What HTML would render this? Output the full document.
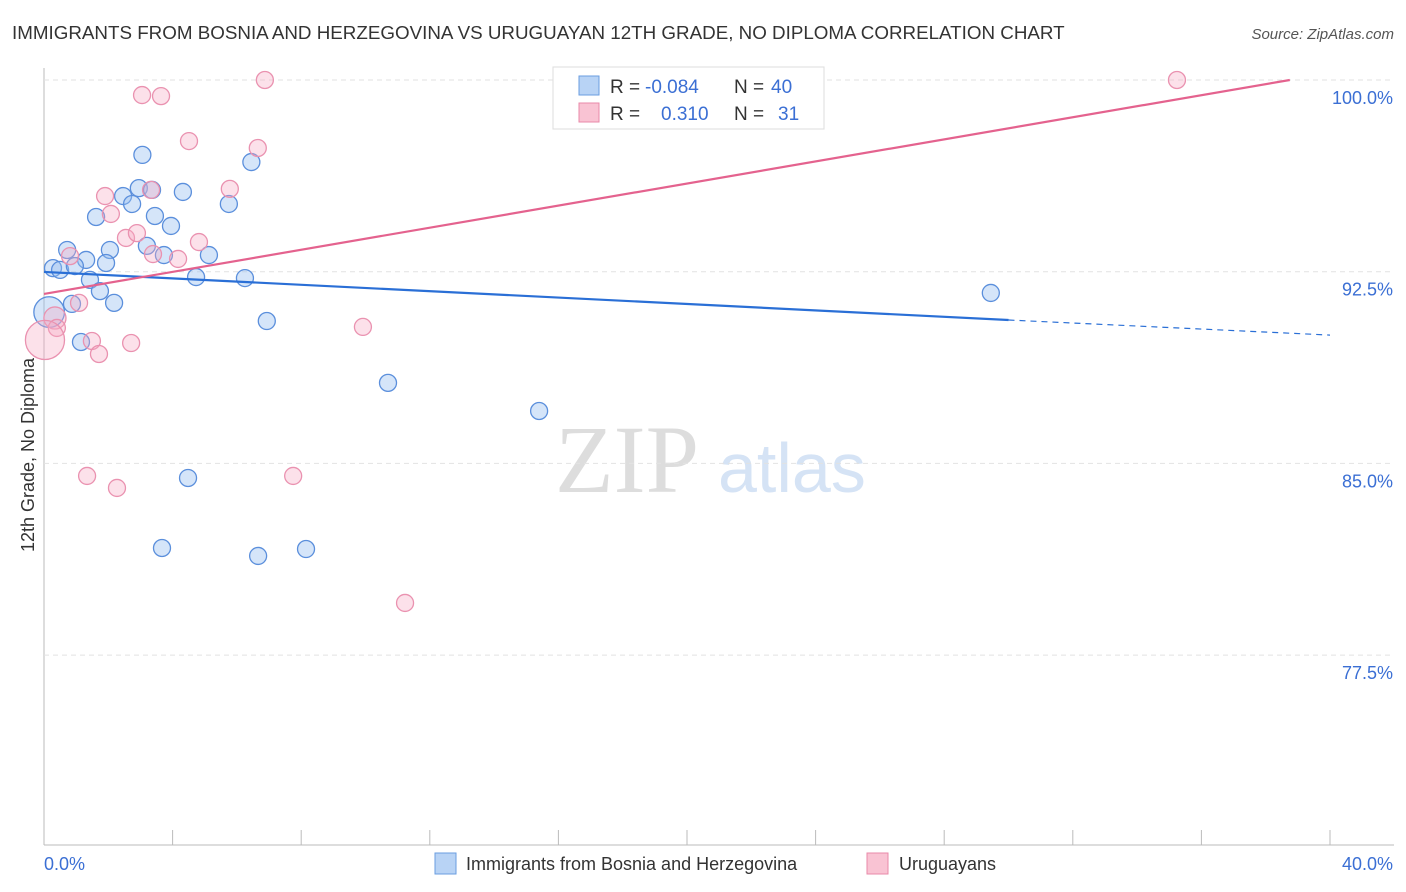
<!DOCTYPE html>
<html><head><meta charset="utf-8"><style>
body{margin:0;background:#fff;font-family:"Liberation Sans",sans-serif}
svg{display:block}
</style></head><body>
<svg width="1406" height="892" id="c">
<text x="12" y="39" font-size="18.8" fill="#333">IMMIGRANTS FROM BOSNIA AND HERZEGOVINA VS URUGUAYAN 12TH GRADE, NO DIPLOMA CORRELATION CHART</text>
<text x="1394" y="39" font-size="15" fill="#555" text-anchor="end" font-style="italic">Source: ZipAtlas.com</text>
<text x="0" y="0" transform="translate(34,455) rotate(-90)" font-size="18" fill="#333" text-anchor="middle">12th Grade, No Diploma</text>
<text x="555" y="492" font-size="96" fill="#ddd" font-family="Liberation Serif">ZIP</text>
<text x="718" y="492" font-size="70" fill="#d5e3f5">atlas</text>
<g id="grid"></g><g id="marks"></g>
<g>
<rect x="553" y="67" width="271" height="62" fill="#fff" stroke="#ddd"/>
<rect x="579" y="76" width="20" height="19" fill="#b8d3f5" stroke="#6a9ee0"/>
<rect x="579" y="103" width="20" height="19" fill="#f9c3d3" stroke="#e98aa8"/>
<text x="610" y="93" font-size="19" fill="#333">R =</text>
<text x="645" y="93" font-size="19" fill="#3b6fd4">-0.084</text>
<text x="734" y="93" font-size="19" fill="#333">N =</text>
<text x="771" y="93" font-size="19" fill="#3b6fd4">40</text>
<text x="610" y="120" font-size="19" fill="#333">R =</text>
<text x="661" y="120" font-size="19" fill="#3b6fd4">0.310</text>
<text x="734" y="120" font-size="19" fill="#333">N =</text>
<text x="778" y="120" font-size="19" fill="#3b6fd4">31</text>
</g>
<g>
<rect x="435" y="853" width="21" height="21" fill="#b8d3f5" stroke="#6a9ee0"/>
<text x="466" y="870" font-size="18" fill="#333">Immigrants from Bosnia and Herzegovina</text>
<rect x="867" y="853" width="21" height="21" fill="#f9c3d3" stroke="#e98aa8"/>
<text x="899" y="870" font-size="18" fill="#333">Uruguayans</text>
</g>
</svg>
<script>
const yTicks=[100,92.5,85,77.5];
const yTickLabels=["100.0%","92.5%","85.0%","77.5%"];
const xTickLabels=["0.0%","40.0%"];
const blueX=[3.06,6.45,2.95,3.36,2.46,4.32,2.74,5.75,1.62,3.45,3.95,0.72,2.05,3.2,3.73,5.13,1.31,1.93,0.28,0.5,0.96,1.43,4.73,6.25,1.74,0.87,2.18,6.93,1.15,0.16,10.7,15.4,4.48,3.67,6.66,8.15,29.45];
const blueY=[97.07,96.79,95.77,95.70,95.46,95.62,95.15,95.15,94.64,94.68,94.29,93.35,93.35,93.51,93.15,93.15,92.96,92.84,92.64,92.57,92.72,92.18,92.29,92.25,91.74,91.24,91.28,90.57,89.75,90.92,88.15,87.05,84.43,81.69,81.38,81.65,91.67];
const blueSize=[1,1,1,1,1,1,1,1,1,1,1,1,1,1,1,1,1,1,1,1,1,1,1,1,1,1,1,1,1,1.8,1,1,1,1,1,1,1];
const pinkX=[3.05,3.64,6.87,4.51,6.65,5.78,1.9,3.33,2.08,2.55,2.89,4.82,3.39,4.17,0.81,1.09,0.34,0.4,1.49,2.71,1.71,0.03,9.92,1.34,2.27,7.75,11.23,35.24,23.57];
const pinkY=[99.41,99.37,100,97.61,97.34,95.74,95.46,95.70,94.76,93.82,94.01,93.66,93.19,93.0,93.11,91.28,90.69,90.3,89.79,89.71,89.28,89.83,90.34,84.51,84.04,84.51,79.54,100,100];
const pinkSize=[1,1,1,1,1,1,1,1,1,1,1,1,1,1,1,1,1.3,1,1,1,1,2.3,1,1,1,1,1,1,1];
const blueTrend=[0,92.49,30,90.61,40,90.02];
const pinkTrend=[0,91.63,38.75,100];
const X=v=>44+v/40*1286, Y=v=>80+(100-v)/7.5*191.7;
const ns="http://www.w3.org/2000/svg";
function mk(t,a,p){const e=document.createElementNS(ns,t);for(const k in a)e.setAttribute(k,a[k]);p.appendChild(e);return e;}
const g=document.getElementById('grid'),m=document.getElementById('marks');
let ax=mk('line',{x1:44,y1:68,x2:44,y2:845,stroke:'#bbb'},g);

let bx=mk('line',{x1:44,y1:845,x2:1394,y2:845,stroke:'#bbb'},g);

for(let i=0;i<=10;i++){let t=mk('line',{x1:X(i*4),y1:830,x2:X(i*4),y2:845,stroke:'#bbb'},g);
}
yTicks.forEach((v,i)=>{let l=mk('line',{x1:44,y1:Y(v),x2:1394,y2:Y(v),stroke:'#e2e2e2','stroke-dasharray':'5,4'},g);

let t=mk('text',{x:1393,y:Y(v)+24,'font-size':18,fill:'#3b6fd4','text-anchor':'end'},g);t.textContent=yTickLabels[i];
});
let xl=mk('text',{x:44,y:870,'font-size':18,fill:'#3b6fd4'},g);xl.textContent=xTickLabels[0];

let xr=mk('text',{x:1393,y:870,'font-size':18,fill:'#3b6fd4','text-anchor':'end'},g);xr.textContent=xTickLabels[1];

blueX.forEach((v,i)=>{let c=mk('circle',{cx:X(v),cy:Y(blueY[i]),r:8.5*blueSize[i],fill:'rgba(150,190,240,0.4)',stroke:'#5b8fdc','stroke-width':1.3},m);
});
pinkX.forEach((v,i)=>{let c=mk('circle',{cx:X(v),cy:Y(pinkY[i]),r:8.5*pinkSize[i],fill:'rgba(245,170,195,0.35)',stroke:'#ea92b0','stroke-width':1.3},m);
});
let bt=mk('line',{x1:X(blueTrend[0]),y1:Y(blueTrend[1]),x2:X(blueTrend[2]),y2:Y(blueTrend[3]),stroke:'#2a6fd6','stroke-width':2.2},m);

let bd=mk('line',{x1:X(blueTrend[2]),y1:Y(blueTrend[3]),x2:X(blueTrend[4]),y2:Y(blueTrend[5]),stroke:'#2a6fd6','stroke-width':1.2,'stroke-dasharray':'6,5'},m);

let pt=mk('line',{x1:X(pinkTrend[0]),y1:Y(pinkTrend[1]),x2:X(pinkTrend[2]),y2:Y(pinkTrend[3]),stroke:'#e4628e','stroke-width':2.2},m);

</script>
</body></html>
